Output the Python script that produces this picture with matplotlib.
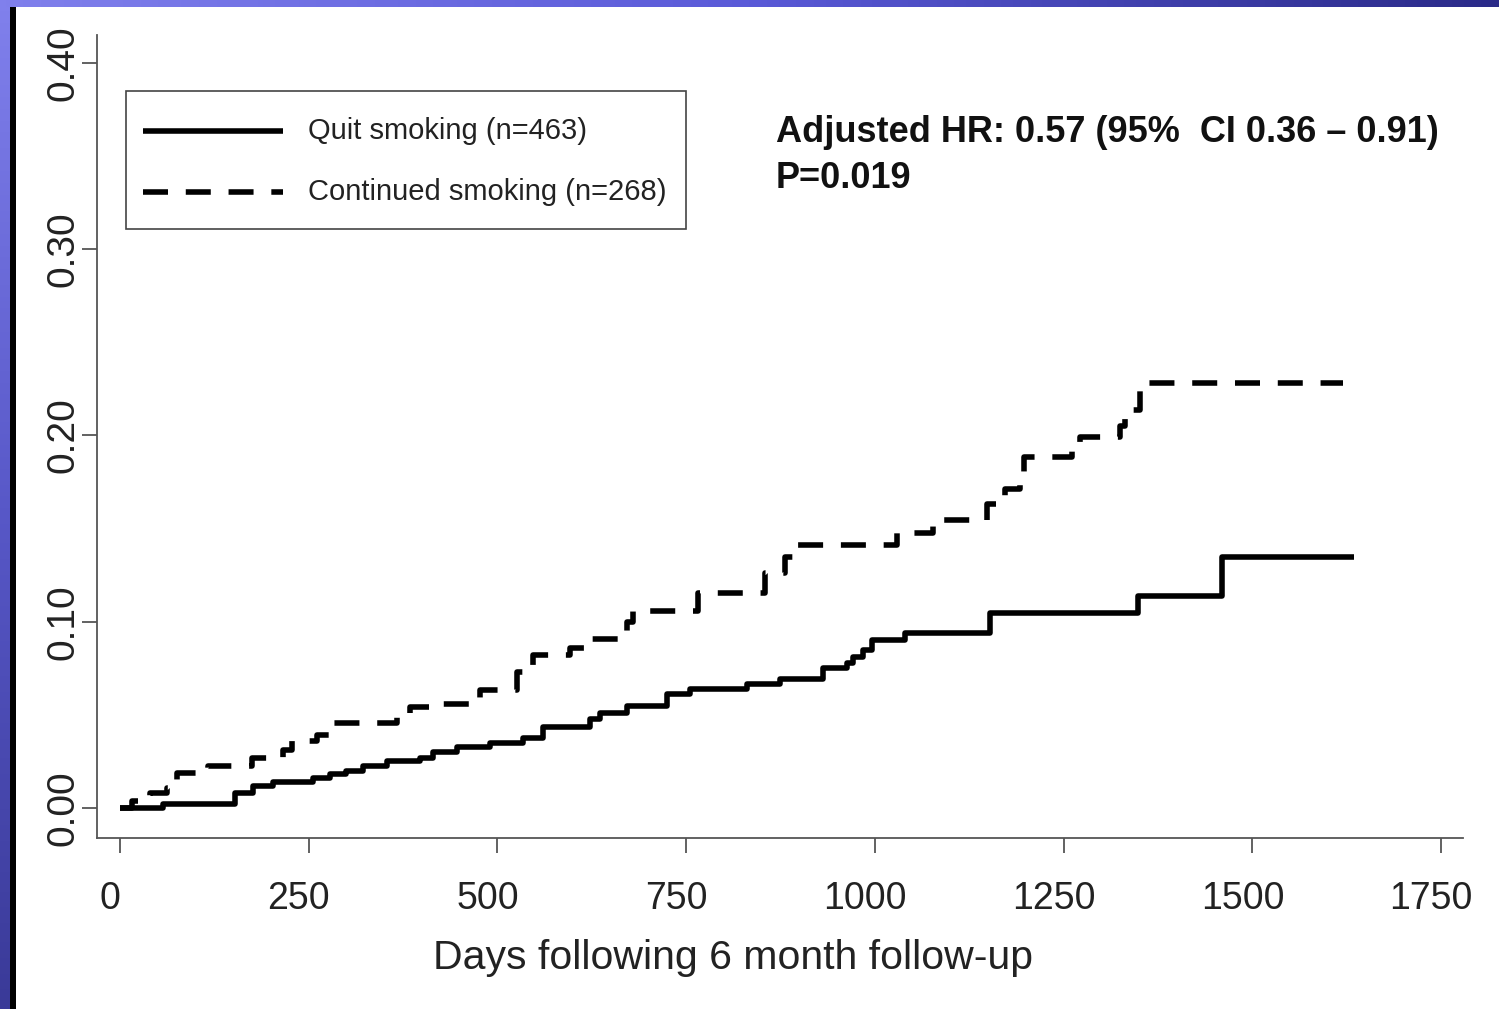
import numpy as np
import matplotlib
matplotlib.use("Agg")
import matplotlib.pyplot as plt
from matplotlib.lines import Line2D
from matplotlib.patches import Rectangle
from matplotlib.transforms import ScaledTranslation

plt.rcParams['font.family'] = ['Liberation Sans', 'DejaVu Sans']

# cumulative incidence step curves (day of step, value after step)
quit_days = [0, 57, 152, 176, 203, 256, 278, 300, 322, 354, 397, 415, 446, 490,
             534, 560, 623, 636, 672, 725, 755, 831, 874, 931, 963, 971, 984,
             996, 1040, 1152, 1349, 1460, 1634]
quit_vals = [0.0, 0.002, 0.008, 0.012, 0.014, 0.016, 0.018, 0.020, 0.0225, 0.025,
             0.027, 0.030, 0.033, 0.035, 0.0375, 0.0435, 0.048, 0.051, 0.055,
             0.061, 0.064, 0.0665, 0.069, 0.075, 0.078, 0.081, 0.085, 0.090,
             0.094, 0.1047, 0.114, 0.135, 0.135]

cont_days = [0, 16, 40, 62, 75, 117, 175, 216, 228, 261, 282, 367, 384, 424, 477,
             526, 547, 596, 625, 672, 680, 765, 855, 881, 893, 1029, 1077, 1149,
             1172, 1192, 1197, 1261, 1272, 1325, 1331, 1351, 1620]
cont_vals = [0.0, 0.004, 0.008, 0.011, 0.019, 0.0225, 0.027, 0.031, 0.036, 0.039,
             0.0455, 0.049, 0.054, 0.056, 0.0633, 0.073, 0.082, 0.086, 0.091,
             0.100, 0.106, 0.1154, 0.126, 0.135, 0.141, 0.1476, 0.1546, 0.163,
             0.171, 0.180, 0.1885, 0.196, 0.199, 0.205, 0.2137, 0.228, 0.228]

series_labels = ["Quit smoking (n=463)", "Continued smoking (n=268)"]
x_ticks = [0, 250, 500, 750, 1000, 1250, 1500, 1750]
y_ticks = [0.0, 0.1, 0.2, 0.3, 0.4]
y_ticklabels = ["0.00", "0.10", "0.20", "0.30", "0.40"]
x_label = "Days following 6 month follow-up"
hr_text = "Adjusted HR: 0.57 (95%  CI 0.36 \u2013 0.91)"
p_text = "P=0.019"

W, H = 1499, 1009


def fx(x):
    return x / W


def fy(y):
    return 1 - y / H


fig = plt.figure(figsize=(W / 100, H / 100), dpi=100)
fig.patch.set_facecolor("white")

# slide decoration: blue bands top and left, black stripe
top = fig.add_axes([0, fy(7), 1, 7 / H])
top.imshow(np.linspace(0, 1, 256)[None, :], cmap=matplotlib.colors.LinearSegmentedColormap.from_list(
    "tb", ["#8080ec", "#5a5ad8", "#2a2a88"]), aspect="auto", extent=[0, 1, 0, 1])
top.axis("off")
left = fig.add_axes([0, 0, 10 / W, fy(7)])
left.imshow(np.linspace(0, 1, 256)[:, None], cmap=matplotlib.colors.LinearSegmentedColormap.from_list(
    "lb", ["#8080ec", "#5858c8", "#3a3a98"]), aspect="auto", extent=[0, 1, 0, 1])
left.axis("off")
fig.patches.append(Rectangle((fx(10), 0), 6 / W, fy(7), transform=fig.transFigure,
                             facecolor="black", edgecolor="none"))

ax = fig.add_axes([fx(97), fy(838), fx(1463) - fx(97), fy(35) - fy(838)])
ax.set_xlim(-30.5, 1779)
ax.set_ylim(-0.0161, 0.415)

ax.step(quit_days, quit_vals, where="post", color="black", lw=4.0,
        solid_capstyle="butt")
ax.step(cont_days, cont_vals, where="post", color="black", lw=4.0,
        linestyle=(0, (4.5, 3.2)), dash_capstyle="butt")

for s in ["top", "right"]:
    ax.spines[s].set_visible(False)
for s in ["left", "bottom"]:
    ax.spines[s].set_color("#555555")
    ax.spines[s].set_linewidth(1.3)

ax.set_xticks(x_ticks)
ax.set_xticklabels([str(t) for t in x_ticks], fontsize=27)
ax.set_yticks(y_ticks)
ax.set_yticklabels(y_ticklabels, rotation=90, va="center", fontsize=28)
ax.tick_params(axis="both", direction="out", length=11, width=1.3, color="#555555",
               labelcolor="#222222")
ax.tick_params(axis="x", pad=20)
ax.tick_params(axis="y", pad=0)
# the x labels sit a little left of their ticks in the original
shift = ScaledTranslation(-10 / 100, 0, fig.dpi_scale_trans)
for lab in ax.get_xticklabels():
    lab.set_transform(lab.get_transform() + shift)

fig.text(fx(733), fy(958), x_label, fontsize=29.5, color="#222222",
         ha="center", va="center")

# legend box
fig.patches.append(Rectangle((fx(126), fy(229)), fx(686) - fx(126), fy(91) - fy(229),
                             transform=fig.transFigure, facecolor="white",
                             edgecolor="#444444", lw=1.2))
fig.lines.append(Line2D([fx(143), fx(283)], [fy(131), fy(131)], transform=fig.transFigure,
                        color="black", lw=4.0, solid_capstyle="butt"))
fig.lines.append(Line2D([fx(143), fx(283)], [fy(192), fy(192)], transform=fig.transFigure,
                        color="black", lw=4.0, linestyle=(0, (4.5, 3.2)),
                        dash_capstyle="butt"))
fig.text(fx(308), fy(131), series_labels[0], fontsize=21, va="center", ha="left",
         color="#222222")
fig.text(fx(308), fy(192), series_labels[1], fontsize=21, va="center", ha="left",
         color="#222222")

fig.text(fx(776), fy(133), hr_text, fontsize=26, fontweight="bold", va="center",
         ha="left", color="#111111")
fig.text(fx(776), fy(178), p_text, fontsize=26, fontweight="bold", va="center",
         ha="left", color="#111111")

fig.savefig("out.png", dpi=100)
